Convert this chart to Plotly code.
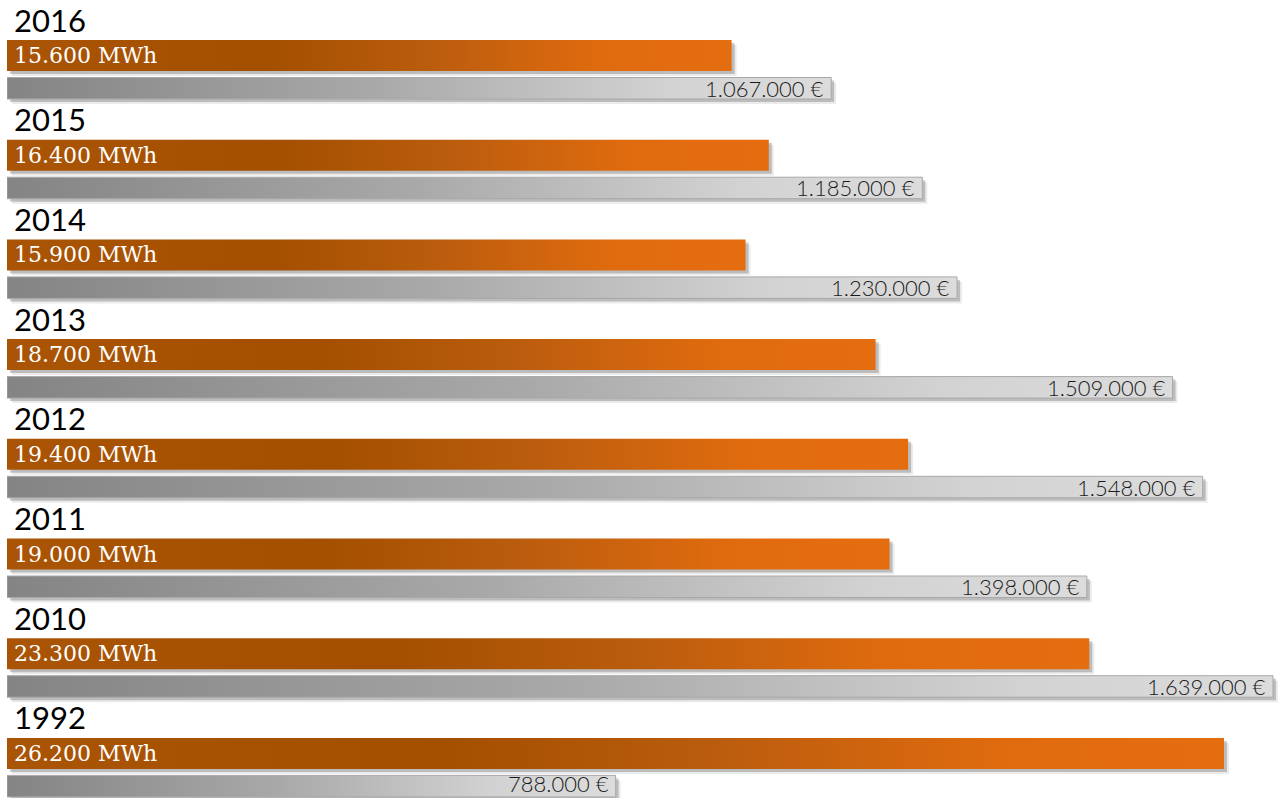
import plotly.graph_objects as go

# Annual energy use and cost per year
years = ["2016", "2015", "2014", "2013", "2012", "2011", "2010", "1992"]
energy_mwh = [15600, 16400, 15900, 18700, 19400, 19000, 23300, 26200]
cost_eur = [1067000, 1185000, 1230000, 1509000, 1548000, 1398000, 1639000, 788000]

W, H = 1280, 798
LEFT = 7
PLOT_W = W - LEFT
ROW_PX = 99.7                    # height of one year block in pixels

E_MAX = 27406                    # energy axis range (MWh)
C_MAX = 1648100                  # cost axis range (EUR)
Y_MAX = H / ROW_PX

e_per_px = E_MAX / PLOT_W
c_per_px = C_MAX / PLOT_W
y_per_px = 1 / ROW_PX

# vertical layout inside a year block (in block units)
E_TOP, E_BOT = 40 / ROW_PX, 71 / ROW_PX
C_TOP, C_BOT = 77.5 / ROW_PX, 99 / ROW_PX
LABEL_Y = 19.5 / ROW_PX

EUR_FONT = 22

ORANGE_SCALE = [[0.0, "#aa5406"], [0.36, "#a44f00"], [0.58, "#ba5c0e"],
                [0.82, "#e06b0e"], [1.0, "#e46d10"]]
GRAY_SCALE = [[0.0, "#848484"], [0.45, "#a9a9a9"], [0.8, "#d2d2d2"],
              [1.0, "#dcdcdc"]]


def fmt(v):
    return f"{v:,}".replace(",", ".")


def rect(x0, x1, y0, y1):
    return [x0, x1, x1, x0, x0], [y0, y0, y1, y1, y0]


fig = go.Figure()

for i, (yr, e, c) in enumerate(zip(years, energy_mwh, cost_eur)):
    base = i
    # soft drop shadows
    for off, alpha in ((5, 0.08), (3, 0.2)):
        xs, ys = rect(0 + off * e_per_px, e + off * e_per_px,
                      base + E_TOP + off * y_per_px, base + E_BOT + off * y_per_px)
        fig.add_trace(go.Scatter(x=xs, y=ys, fill="toself", mode="lines",
                                 line=dict(width=0), fillcolor=f"rgba(0,0,0,{alpha})",
                                 hoverinfo="skip", xaxis="x", yaxis="y"))
        xs, ys = rect(0 + off * c_per_px, c + off * c_per_px,
                      base + C_TOP + off * y_per_px, base + C_BOT + off * y_per_px)
        fig.add_trace(go.Scatter(x=xs, y=ys, fill="toself", mode="lines",
                                 line=dict(width=0), fillcolor=f"rgba(0,0,0,{alpha})",
                                 hoverinfo="skip", xaxis="x2", yaxis="y"))

    # energy bar
    xs, ys = rect(0, e, base + E_TOP, base + E_BOT)
    fig.add_trace(go.Scatter(x=xs, y=ys, fill="toself", mode="lines",
                             line=dict(width=0),
                             fillgradient=dict(type="horizontal", colorscale=ORANGE_SCALE),
                             hoverinfo="skip", xaxis="x", yaxis="y"))
    # cost bar
    xs, ys = rect(0, c, base + C_TOP, base + C_BOT)
    fig.add_trace(go.Scatter(x=xs, y=ys, fill="toself", mode="lines",
                             line=dict(width=1, color="#a8a8a8"),
                             fillgradient=dict(type="horizontal", colorscale=GRAY_SCALE),
                             hoverinfo="skip", xaxis="x2", yaxis="y"))

    fig.add_annotation(x=0, y=base + LABEL_Y, xref="x", yref="y", text=yr,
                       showarrow=False, xanchor="left", yanchor="middle", xshift=5,
                       font=dict(family="Lato", size=31, color="#000000"))
    fig.add_annotation(x=0, y=base + (E_TOP + E_BOT) / 2, xref="x", yref="y",
                       text=f"{fmt(e)} MWh", showarrow=False, xanchor="left",
                       yanchor="middle", xshift=5,
                       font=dict(family="DejaVu Serif", size=22, color="#ffffff"))

    # keep the cost label box inside the page at the bottom edge
    label_y = base + (C_TOP + C_BOT) / 2
    center_px = label_y * ROW_PX
    half_box = 0.6 * EUR_FONT + 1.5
    lift = max(0.0, center_px + half_box - H)
    fig.add_annotation(x=c, y=label_y, xref="x2", yref="y",
                       text=f"{fmt(c)} €", showarrow=False, xanchor="right",
                       yanchor="middle", xshift=-5, yshift=round(lift + 0.49),
                       font=dict(family="Lato", size=EUR_FONT, weight=300, color="#1a1a1a"))

fig.update_layout(
    width=W, height=H,
    margin=dict(l=LEFT, r=0, t=0, b=0),
    paper_bgcolor="white", plot_bgcolor="white",
    showlegend=False,
    xaxis=dict(range=[0, E_MAX], visible=False, fixedrange=True),
    xaxis2=dict(range=[0, C_MAX], visible=False, overlaying="x", fixedrange=True),
    yaxis=dict(range=[Y_MAX, 0], visible=False, fixedrange=True),
)

fig.write_html("out.html", config={"displayModeBar": False})
